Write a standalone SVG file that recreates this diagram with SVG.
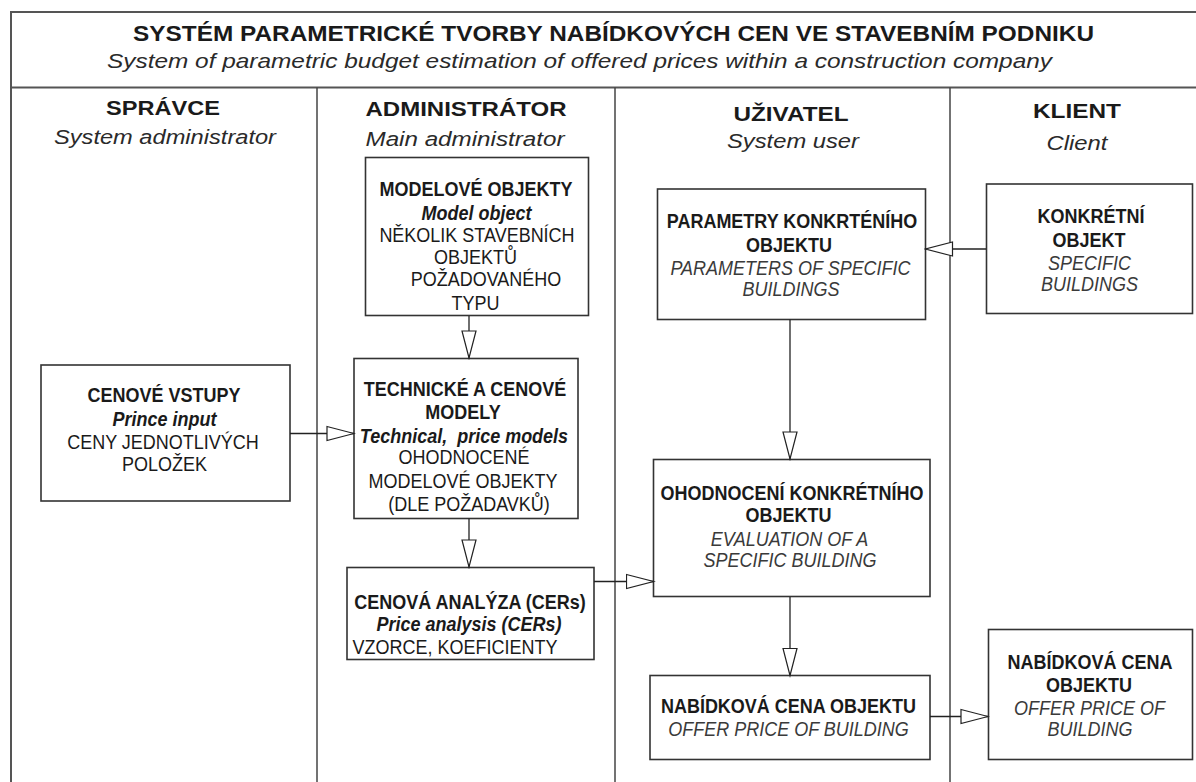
<svg xmlns="http://www.w3.org/2000/svg" width="1196" height="782" viewBox="0 0 1196 782">
<style>
text{font-family:"Liberation Sans",Arial,Helvetica,sans-serif;fill:#1a1a1a}
.t{font-size:22px;font-weight:bold}
.st{font-size:21px;font-style:italic;fill:#2a2a2a}
.h{font-size:21px;font-weight:bold;text-anchor:middle}
.hs{font-size:20px;font-style:italic;fill:#2a2a2a;text-anchor:middle}
.n{font-size:18px;text-anchor:middle;transform-box:fill-box;transform-origin:center;transform:scaleY(1.1)}
.b{font-weight:bold}
.bi{font-weight:bold;font-style:italic}
.i{font-style:italic;fill:#3a3a3a}
.frame{fill:none;stroke:#555;stroke-width:2}
.div{stroke:#444;stroke-width:1.5}
.box{fill:#fff;stroke:#333;stroke-width:1.6}
.con{fill:none;stroke:#222;stroke-width:1.3}
</style>
<defs>
<marker id="ah" markerUnits="userSpaceOnUse" markerWidth="30" markerHeight="18" refX="28" refY="8.5" orient="auto">
<path d="M1,1.5 L28,8.5 L1,15.5 Z" fill="#fff" stroke="#222" stroke-width="1.2"/>
</marker>
</defs>
<rect width="1196" height="782" fill="#fff"/>
<g id="frame">
<path class="frame" d="M1197,12 H11 V782"/>
<line class="frame" x1="11" y1="87.5" x2="1197" y2="87.5"/>
<line class="div" x1="317" y1="87.5" x2="317" y2="782"/>
<line class="div" x1="615" y1="87.5" x2="615" y2="782"/>
<line class="div" x1="950" y1="87.5" x2="950" y2="782"/>
</g>
<g id="header">
<text class="t" x="133" y="40.5" textLength="961" lengthAdjust="spacingAndGlyphs">SYSTÉM PARAMETRICKÉ TVORBY NABÍDKOVÝCH CEN VE STAVEBNÍM PODNIKU</text>
<text class="st" x="107" y="68" textLength="945" lengthAdjust="spacingAndGlyphs">System of parametric budget estimation of offered prices within a construction company</text>
</g>
<g id="lane-spravce">
<text class="h" x="163" y="115" textLength="114" lengthAdjust="spacingAndGlyphs">SPRÁVCE</text>
<text class="hs" x="165" y="144" textLength="222" lengthAdjust="spacingAndGlyphs">System administrator</text>
</g>
<g id="lane-administrator">
<text class="h" x="466" y="116" textLength="201" lengthAdjust="spacingAndGlyphs">ADMINISTRÁTOR</text>
<text class="hs" x="465" y="146" textLength="199" lengthAdjust="spacingAndGlyphs">Main administrator</text>
</g>
<g id="lane-uzivatel">
<text class="h" x="791" y="121" textLength="115" lengthAdjust="spacingAndGlyphs">UŽIVATEL</text>
<text class="hs" x="793" y="148" textLength="132" lengthAdjust="spacingAndGlyphs">System user</text>
</g>
<g id="lane-klient">
<text class="h" x="1077" y="118" textLength="88" lengthAdjust="spacingAndGlyphs">KLIENT</text>
<text class="hs" x="1077" y="150" textLength="61" lengthAdjust="spacingAndGlyphs">Client</text>
</g>
<g id="modelove-objekty">
<rect class="box" x="365.5" y="157.5" width="223" height="158"/>
<text class="n b" x="476" y="195.5">MODELOVÉ OBJEKTY</text>
<text class="n bi" x="476.5" y="219">Model object</text>
<text class="n" x="477" y="241.5">NĚKOLIK STAVEBNÍCH</text>
<text class="n" x="475.5" y="263">OBJEKTŮ</text>
<text class="n" x="486" y="285.5">POŽADOVANÉHO</text>
<text class="n" x="475.5" y="309">TYPU</text>
</g>
<g id="technicke-modely">
<rect class="box" x="354" y="358.5" width="224" height="160"/>
<text class="n b" x="465" y="395">TECHNICKÉ A CENOVÉ</text>
<text class="n b" x="463" y="418">MODELY</text>
<text class="n bi" x="464" y="442.5" xml:space="preserve">Technical,  price models</text>
<text class="n" x="464" y="463">OHODNOCENÉ</text>
<text class="n" x="463" y="487">MODELOVÉ OBJEKTY</text>
<text class="n" x="469" y="510">(DLE POŽADAVKŮ)</text>
</g>
<g id="cenove-vstupy">
<rect class="box" x="41" y="365" width="249" height="136"/>
<text class="n b" x="164" y="401.5">CENOVÉ VSTUPY</text>
<text class="n bi" x="164.5" y="425">Prince input</text>
<text class="n" x="163" y="448">CENY JEDNOTLIVÝCH</text>
<text class="n" x="164.5" y="470">POLOŽEK</text>
</g>
<g id="cenova-analyza">
<rect class="box" x="347" y="567.5" width="247" height="92"/>
<text class="n b" x="470" y="608">CENOVÁ ANALÝZA (CERs)</text>
<text class="n bi" x="469" y="630.5">Price analysis (CERs)</text>
<text class="n" x="455" y="653">VZORCE, KOEFICIENTY</text>
</g>
<g id="parametry-objektu">
<rect class="box" x="657.5" y="189" width="268" height="130.5"/>
<text class="n b" x="792" y="227.5">PARAMETRY KONKRTÉNÍHO</text>
<text class="n b" x="789" y="251">OBJEKTU</text>
<text class="n i" x="790.5" y="274">PARAMETERS OF SPECIFIC</text>
<text class="n i" x="791" y="295">BUILDINGS</text>
</g>
<g id="konkretni-objekt">
<rect class="box" x="986.5" y="184" width="206" height="129.5"/>
<text class="n b" x="1091" y="222.5">KONKRÉTNÍ</text>
<text class="n b" x="1089" y="246">OBJEKT</text>
<text class="n i" x="1089.5" y="269">SPECIFIC</text>
<text class="n i" x="1089.5" y="290.5">BUILDINGS</text>
</g>
<g id="ohodnoceni-objektu">
<rect class="box" x="653.5" y="459.5" width="276.5" height="137"/>
<text class="n b" x="792" y="499">OHODNOCENÍ KONKRÉTNÍHO</text>
<text class="n b" x="788.5" y="521.5">OBJEKTU</text>
<text class="n i" x="789.5" y="545">EVALUATION OF A</text>
<text class="n i" x="790" y="566.5">SPECIFIC BUILDING</text>
</g>
<g id="nabidkova-cena-objektu">
<rect class="box" x="650" y="675.5" width="280" height="84"/>
<text class="n b" x="788.5" y="712.5">NABÍDKOVÁ CENA OBJEKTU</text>
<text class="n i" x="788.5" y="735">OFFER PRICE OF BUILDING</text>
</g>
<g id="nabidkova-cena-klient">
<rect class="box" x="988.5" y="629.5" width="204" height="130"/>
<text class="n b" x="1090" y="668">NABÍDKOVÁ CENA</text>
<text class="n b" x="1089" y="691">OBJEKTU</text>
<text class="n i" x="1089.5" y="714">OFFER PRICE OF</text>
<text class="n i" x="1090" y="735">BUILDING</text>
</g>
<g id="connectors">
<path class="con" d="M469,316 V358" marker-end="url(#ah)"/>
<path class="con" d="M469,518.5 V567" marker-end="url(#ah)"/>
<path class="con" d="M290,433.5 H354" marker-end="url(#ah)"/>
<path class="con" d="M986,249 H925.5" marker-end="url(#ah)"/>
<path class="con" d="M790,319.5 V459" marker-end="url(#ah)"/>
<path class="con" d="M594,581.5 H653.5" marker-end="url(#ah)"/>
<path class="con" d="M790,597 V675.5" marker-end="url(#ah)"/>
<path class="con" d="M930,716.5 H988" marker-end="url(#ah)"/>
</g>
</svg>
